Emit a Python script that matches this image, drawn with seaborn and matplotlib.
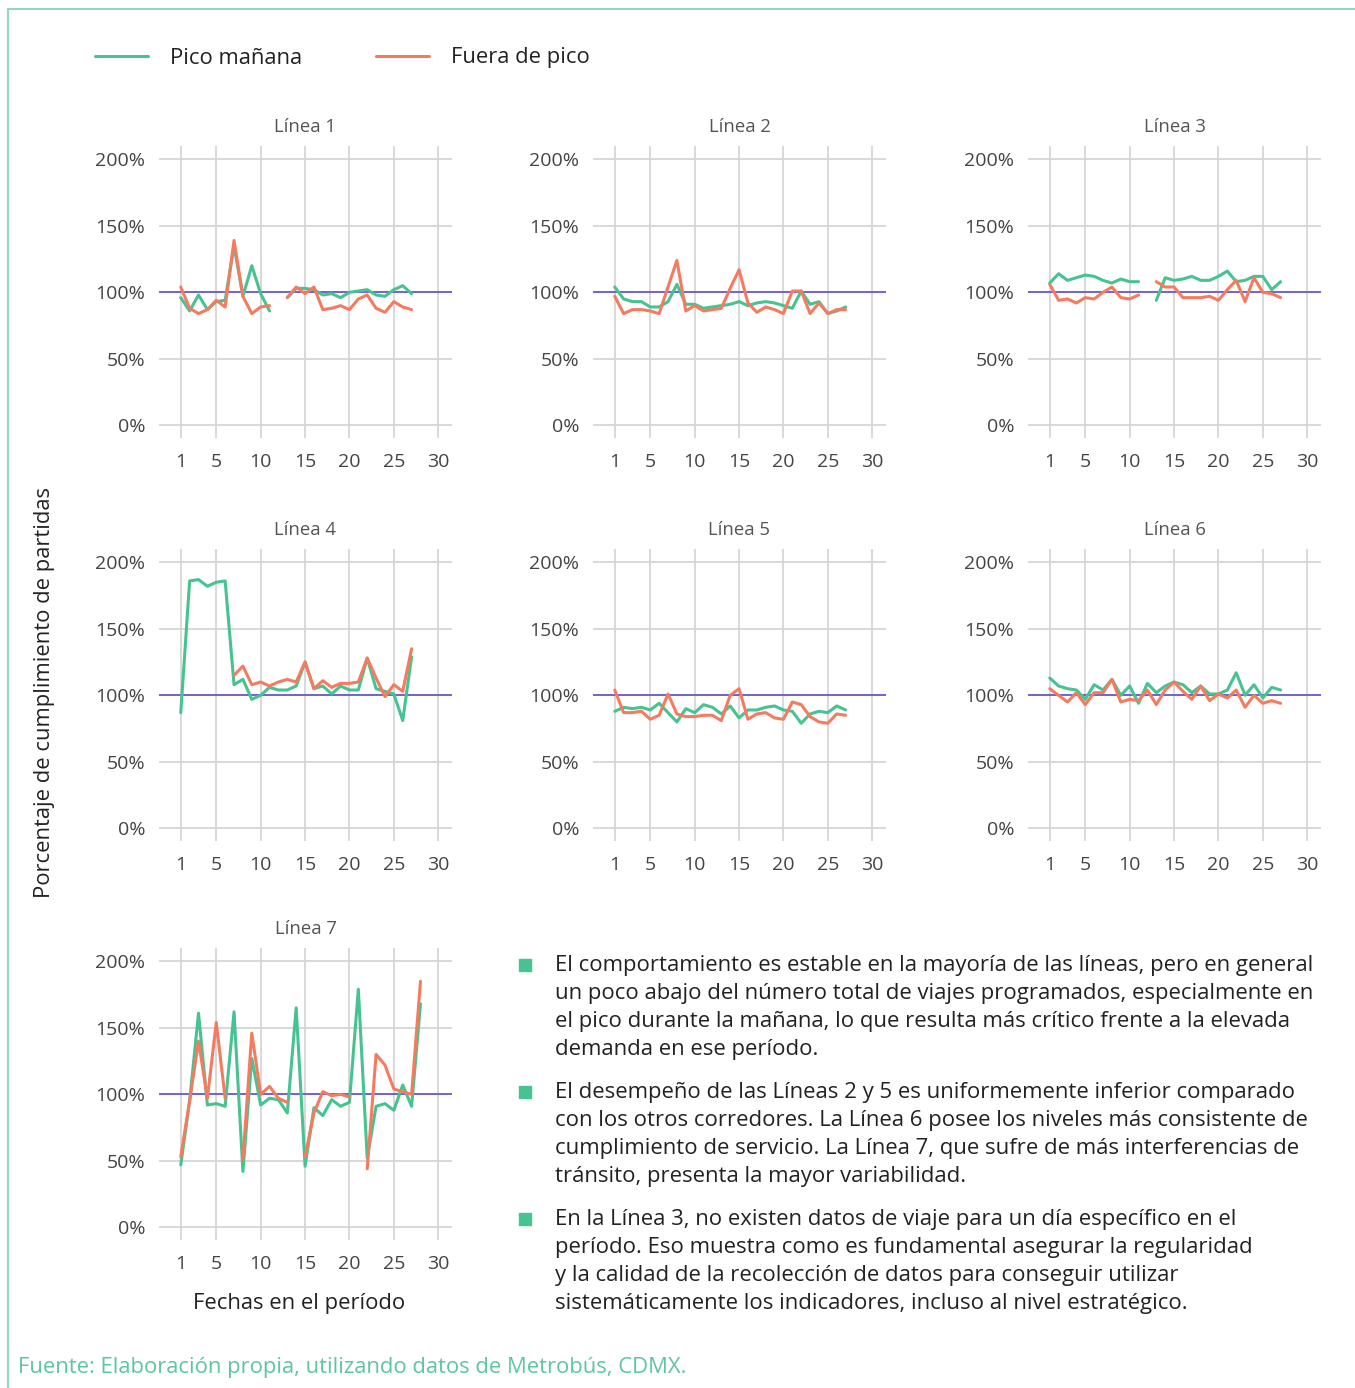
import numpy as np
import pandas as pd
import matplotlib.pyplot as plt
import seaborn as sns
from matplotlib.lines import Line2D
from matplotlib.patches import Rectangle

nan = np.nan

'''
Datos leidos del grafico (porcentaje de cumplimiento por dia)
'''
lineas = ['Línea 1', 'Línea 2', 'Línea 3', 'Línea 4', 'Línea 5', 'Línea 6', 'Línea 7']
series = ['Pico mañana', 'Fuera de pico']

pico_l1 = [96, 86, 98, 87, 93, 94, 135, 97, 120, 99, 86, nan, 96, 103, 103, 102, 98, 99, 96, 100, 101, 102, 98, 97, 102, 105, 99]
fuera_l1 = [104, 88, 84, 87, 94, 89, 139, 97, 84, 89, 90, nan, 96, 104, 99, 104, 87, 88, 90, 87, 95, 98, 88, 85, 93, 89, 87]
pico_l2 = [104, 95, 93, 93, 89, 89, 93, 106, 91, 91, 88, 89, 90, 91, 93, 90, 92, 93, 92, 90, 88, 101, 91, 93, 84, 86, 89]
fuera_l2 = [97, 84, 87, 87, 86, 84, 104, 124, 86, 90, 86, 87, 88, 103, 117, 92, 85, 89, 87, 84, 101, 101, 84, 92, 84, 87, 87]
pico_l3 = [107, 114, 109, 111, 113, 112, 109, 107, 110, 108, 108, nan, 94, 111, 109, 110, 112, 109, 109, 112, 116, 108, 109, 112, 112, 102, 108]
fuera_l3 = [106, 94, 95, 92, 96, 95, 100, 104, 96, 95, 98, nan, 108, 104, 104, 96, 96, 96, 97, 94, 102, 109, 93, 111, 100, 99, 96]
pico_l4 = [87, 186, 187, 182, 185, 186, 108, 112, 97, 100, 106, 104, 104, 107, 125, 105, 107, 101, 107, 104, 104, 128, 105, 103, 101, 81, 129]
fuera_l4 = [nan, nan, nan, nan, nan, nan, 115, 122, 108, 110, 107, 110, 112, 110, 125, 105, 111, 106, 109, 109, 110, 128, 113, 99, 108, 103, 135]
pico_l5 = [88, 91, 90, 91, 89, 94, 87, 80, 90, 87, 93, 91, 86, 92, 83, 89, 89, 91, 92, 89, 88, 79, 86, 88, 87, 92, 89]
fuera_l5 = [104, 87, 87, 88, 82, 85, 101, 86, 84, 84, 85, 85, 81, 100, 105, 82, 86, 87, 83, 82, 95, 93, 84, 80, 79, 86, 85]
pico_l6 = [113, 107, 105, 104, 97, 108, 104, 112, 100, 107, 94, 109, 102, 107, 110, 108, 102, 107, 101, 101, 104, 117, 100, 108, 98, 106, 104]
fuera_l6 = [105, 100, 95, 102, 93, 102, 102, 112, 95, 97, 96, 104, 93, 104, 110, 103, 97, 107, 96, 101, 98, 104, 91, 100, 94, 96, 94]
pico_l7 = [47, 95, 161, 92, 93, 91, 162, 42, 127, 92, 97, 96, 86, 165, 46, 90, 84, 96, 91, 94, 179, 52, 91, 93, 88, 107, 91, 168]
fuera_l7 = [53, 95, 140, 97, 154, 97, nan, 51, 146, 100, 106, 97, 94, nan, 53, 86, 102, 99, 100, 98, nan, 44, 130, 122, 104, 102, 100, 185]

valores = {
    'Línea 1': (pico_l1, fuera_l1),
    'Línea 2': (pico_l2, fuera_l2),
    'Línea 3': (pico_l3, fuera_l3),
    'Línea 4': (pico_l4, fuera_l4),
    'Línea 5': (pico_l5, fuera_l5),
    'Línea 6': (pico_l6, fuera_l6),
    'Línea 7': (pico_l7, fuera_l7),
}

xticks = [1, 5, 10, 15, 20, 25, 30]
yticks = [0, 50, 100, 150, 200]
ytick_labels = ['0%', '50%', '100%', '150%', '200%']

bullets = [
    ['El comportamiento es estable en la mayoría de las líneas, pero en general',
     'un poco abajo del número total de viajes programados, especialmente en',
     'el pico durante la mañana, lo que resulta más crítico frente a la elevada',
     'demanda en ese período.'],
    ['El desempeño de las Líneas 2 y 5 es uniformemente inferior comparado',
     'con los otros corredores. La Línea 6 posee los niveles más consistente de',
     'cumplimiento de servicio. La Línea 7, que sufre de más interferencias de',
     'tránsito, presenta la mayor variabilidad.'],
    ['En la Línea 3, no existen datos de viaje para un día específico en el',
     'período. Eso muestra como es fundamental asegurar la regularidad',
     'y la calidad de la recolección de datos para conseguir utilizar',
     'sistemáticamente los indicadores, incluso al nivel estratégico.'],
]

'''
Tabla larga; "seg" separa tramos para cortar la linea donde faltan datos
'''
rows = []
for linea in lineas:
    for serie, vals in zip(series, valores[linea]):
        seg = 0
        for d, v in enumerate(vals, start=1):
            if np.isnan(v):
                seg += 1
                continue
            rows.append({'linea': linea, 'serie': serie, 'dia': d, 'valor': v, 'seg': seg})
df = pd.DataFrame(rows)

verde = '#46C391'
naranja = '#F47B60'
morado = '#6A5ACD'
colores = {'Pico mañana': verde, 'Fuera de pico': naranja}

sns.set_theme(style='whitegrid')
plt.rcParams['font.family'] = ['Open Sans', 'DejaVu Sans']

W, H = 1355, 1388
fig = plt.figure(figsize=(W / 100, H / 100), dpi=100)

lefts = [159, 593, 1028]
tops = [146, 549, 948]
pw, ph = 293, 292

for i, linea in enumerate(lineas):
    r, c = divmod(i, 3)
    l, t = lefts[c], tops[r]
    ax = fig.add_axes([l / W, 1 - (t + ph) / H, pw / W, ph / H])
    sub = df[df['linea'] == linea]
    ax.axhline(100, color=morado, lw=1.3, zorder=1.5)
    sns.lineplot(data=sub, x='dia', y='valor', hue='serie', hue_order=series,
                 units='seg', estimator=None, palette=colores, linewidth=2.2,
                 legend=False, ax=ax)
    ax.set_xlim(-1.45, 31.55)
    ax.set_ylim(-9.5, 210)
    ax.set_xticks(xticks)
    ax.set_yticks(yticks)
    ax.set_yticklabels(ytick_labels)
    ax.set_xlabel('')
    ax.set_ylabel('')
    ax.tick_params(axis='x', length=0, labelsize=14, labelcolor='#444444', pad=11)
    ax.tick_params(axis='y', length=0, labelsize=14, labelcolor='#444444', pad=10)
    ax.grid(True, color='#D5D5D5', lw=1.3)
    ax.set_facecolor('white')
    for s in ax.spines.values():
        s.set_visible(False)
    ax.set_title(linea, fontsize=13.3, color='#555555', pad=10)

# leyenda
handles = [Line2D([], [], color=verde, lw=2.2), Line2D([], [], color=naranja, lw=2.2)]
fig.legend(handles, series, loc='center left', bbox_to_anchor=(95 / W, 1 - 58 / H),
           ncol=2, frameon=False, fontsize=15.8, handlelength=2.4, handletextpad=1.0,
           columnspacing=3.4, borderpad=0, borderaxespad=0, labelcolor='#222222')

fig.text(45 / W, 1 - 692 / H, 'Porcentaje de cumplimiento de partidas', rotation=90,
         ha='center', va='center', fontsize=15.8, color='#222222')
fig.text(299 / W, 1 - 1303 / H, 'Fechas en el período', ha='center', va='center',
         fontsize=15.8, color='#222222')

# texto de conclusiones
starts = [964, 1091, 1218]
for y0, lines in zip(starts, bullets):
    fig.patches.append(Rectangle((519 / W, 1 - (y0 + 7) / H), 12 / W, 12 / H,
                                 transform=fig.transFigure, color=verde, zorder=3))
    for k, txt in enumerate(lines):
        yb = y0 + 28 * k + 7
        fig.text(555 / W, 1 - yb / H, txt, ha='left', va='baseline',
                 fontsize=15.9, color='#222222')

fig.text(18 / W, 1 - 1367 / H, 'Fuente: Elaboración propia, utilizando datos de Metrobús, CDMX.',
         ha='left', va='center', fontsize=15.8, color='#5CC79C')

# bordes verdes
fig.add_artist(Line2D([8 / W, 8 / W], [0, 1 - 9 / H], transform=fig.transFigure,
                      color='#8ED8BC', lw=1.5))
fig.add_artist(Line2D([8 / W, 1], [1 - 9 / H, 1 - 9 / H], transform=fig.transFigure,
                      color='#8ED8BC', lw=1.5))

fig.savefig('out.png', dpi=100, facecolor='white')
